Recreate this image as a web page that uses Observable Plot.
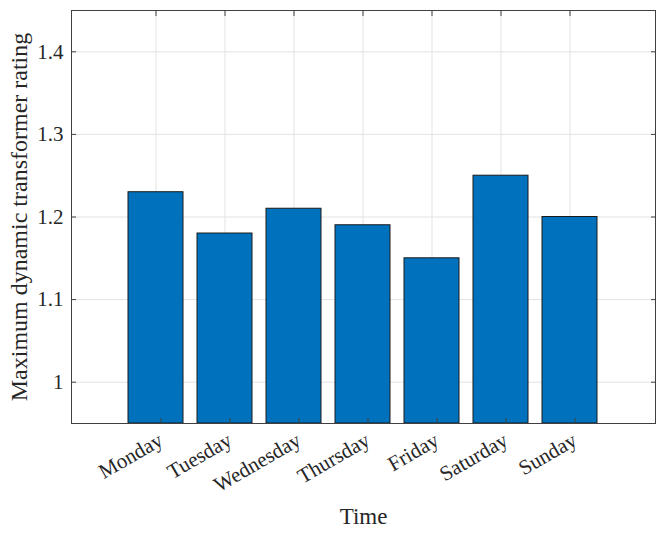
<!DOCTYPE html>
<html>
<head>
<meta charset="utf-8">
<script src="https://cdn.jsdelivr.net/npm/d3@7"></script>
<script src="https://cdn.jsdelivr.net/npm/@observablehq/plot@0.6"></script>
<style>
  html, body { margin: 0; padding: 0; background: #fff; }
  #chart svg { display: block; }
</style>
</head>
<body>
<div id="chart"></div>
<script>
const days = ["Monday", "Tuesday", "Wednesday", "Thursday", "Friday", "Saturday", "Sunday"];
const ratings = [1.23, 1.18, 1.21, 1.19, 1.15, 1.25, 1.20];
const yTicks = [1, 1.1, 1.2, 1.3, 1.4];
const yTickLabels = ["1", "1.1", "1.2", "1.3", "1.4"];

const data = days.map((d, i) => ({day: d, rating: ratings[i]}));
const font = "'Liberation Serif', 'Times New Roman', serif";
const axisColor = "#404040";

const chart = Plot.plot({
  width: 665,
  height: 536,
  marginLeft: 71,
  marginRight: 10,
  marginTop: 10,
  marginBottom: 113,
  style: {fontFamily: font, fontSize: "21px", color: "#262626", background: "#fff"},
  x: {domain: days, paddingInner: 0.2, paddingOuter: 0.8, label: null},
  y: {domain: [0.95, 1.45], label: null},
  marks: [
    Plot.gridX(days, {stroke: "#e3e3e3", strokeOpacity: 1, strokeWidth: 1}),
    Plot.gridY(yTicks, {stroke: "#e3e3e3", strokeOpacity: 1, strokeWidth: 1}),
    Plot.barY(data, {x: "day", y1: 0.95, y2: "rating", fill: "#0072BD", stroke: "#1a1a1a", strokeWidth: 1}),
    Plot.frame({stroke: axisColor, strokeWidth: 1}),
    Plot.axisY(yTicks, {anchor: "left", tickSize: -5, tickPadding: 13, stroke: axisColor, tickFormat: (d, i) => yTickLabels[i], fill: "#262626", fontSize: 21, label: null}),
    Plot.axisY(yTicks, {anchor: "right", tickSize: -5, stroke: axisColor, tickFormat: () => "", label: null}),
    Plot.axisX(days, {anchor: "bottom", tickSize: -5, tickPadding: 20, dx: 5, tickRotate: -30, stroke: axisColor, fill: "#262626", fontSize: 21, label: null}),
    Plot.axisX(days, {anchor: "top", tickSize: -5, stroke: axisColor, tickFormat: () => "", label: null}),
    Plot.text(["Time"], {frameAnchor: "bottom", dy: 100, text: d => d, fontSize: 23, fill: "#262626"}),
    Plot.text(["Maximum dynamic transformer rating"], {frameAnchor: "left", dx: -52, rotate: -90, textAnchor: "middle", text: d => d, fontSize: 24, fill: "#262626"})
  ]
});
document.getElementById("chart").appendChild(chart);
</script>
</body>
</html>
